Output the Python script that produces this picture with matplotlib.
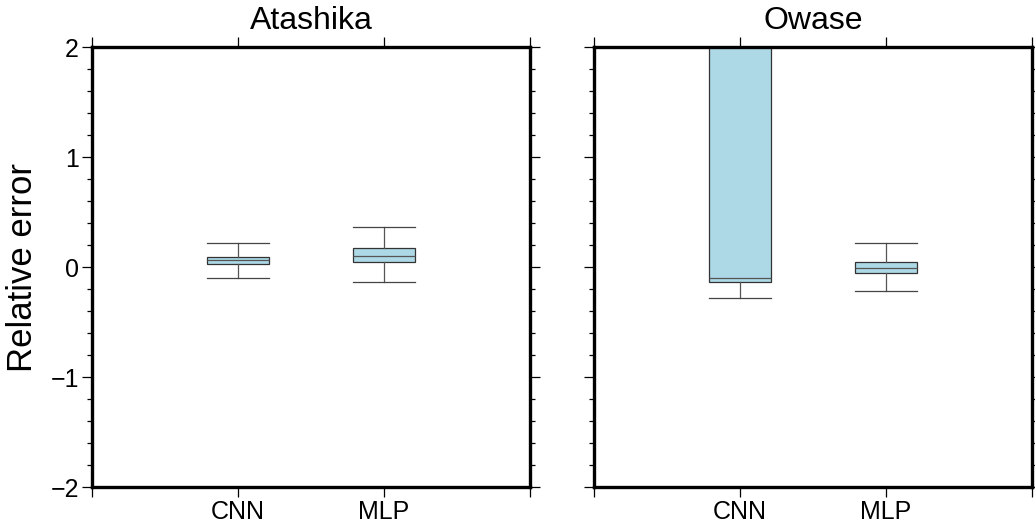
import matplotlib.pyplot as plt
from matplotlib.ticker import FixedLocator, MultipleLocator

plt.rcParams['font.family'] = ['Liberation Sans', 'DejaVu Sans']

# Estatisticas (erro relativo)
estacoes = ['Atashika', 'Owase']
modelos = ['CNN', 'MLP']
whislo = [[-0.10, -0.14], [-0.28, -0.22]]
q1 = [[0.025, 0.045], [-0.135, -0.055]]
medianas = [[0.06, 0.10], [-0.10, -0.005]]
q3 = [[0.095, 0.17], [3.5, 0.05]]
whishi = [[0.215, 0.365], [6.0, 0.215]]

fig = plt.figure(figsize=(10.35, 5.26), dpi=100)
posicoes = [[0.0889, 0.0741, 0.4232, 0.8365], [0.5739, 0.0741, 0.4232, 0.8365]]

for i, nome in enumerate(estacoes):
    ax = fig.add_axes(posicoes[i])
    stats = []
    for j, m in enumerate(modelos):
        stats.append({'label': m, 'med': medianas[i][j], 'q1': q1[i][j], 'q3': q3[i][j],
                      'whislo': whislo[i][j], 'whishi': whishi[i][j], 'fliers': []})
    ax.bxp(stats, positions=[1, 2], widths=0.42, patch_artist=True, showfliers=False,
           boxprops=dict(facecolor='lightblue', edgecolor='#333333', linewidth=0.9),
           medianprops=dict(color='#555555', linewidth=0.9),
           whiskerprops=dict(color='#555555', linewidth=0.9),
           capprops=dict(color='#444444', linewidth=0.9), capwidths=0.42)
    ax.set_xlim(0, 3)
    ax.set_ylim(-2, 2)
    ax.xaxis.set_major_locator(FixedLocator([0, 1, 2, 3]))
    ax.set_xticklabels(['', 'CNN', 'MLP', ''])
    ax.yaxis.set_major_locator(FixedLocator([-2, -1, 0, 1, 2]))
    ax.yaxis.set_minor_locator(MultipleLocator(0.2))
    ax.tick_params(which='both', direction='out', top=True, right=True, width=0.9,
                   labelsize=18, pad=2)
    ax.tick_params(which='major', length=7.5)
    ax.tick_params(which='minor', length=3.5)
    for s in ax.spines.values():
        s.set_linewidth(2.4)
    ax.set_title(nome, fontsize=23, pad=13)
    if i == 0:
        ax.set_ylabel('Relative error', fontsize=25, labelpad=8)
    else:
        ax.tick_params(labelleft=False)

plt.savefig('out.png', dpi=100)
plt.close()
